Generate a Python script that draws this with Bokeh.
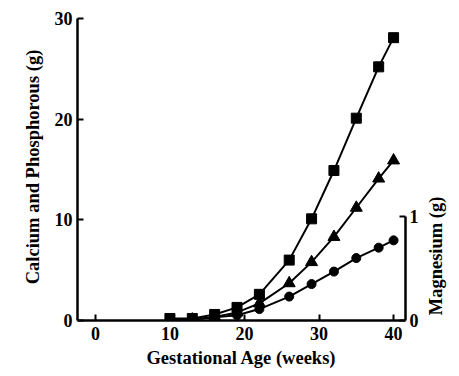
from bokeh.plotting import figure
from bokeh.models import Range1d, LinearAxis, FixedTicker
from bokeh.embed import file_html
from bokeh.resources import INLINE
import math

weeks = [10, 13, 16, 19, 22, 26, 29, 32, 35, 38, 40]
calcium = [0.2, 0.2, 0.6, 1.3, 2.6, 6.0, 10.1, 14.9, 20.1, 25.2, 28.1]
phosphorus = [0.05, 0.1, 0.35, 0.8, 1.7, 3.7, 5.8, 8.3, 11.2, 14.1, 15.9]
magnesium = [0.005, 0.01, 0.03, 0.05, 0.11, 0.23, 0.35, 0.47, 0.60, 0.70, 0.77]
x_ticks = [0, 10, 20, 30, 40]
left_ticks = [0, 10, 20, 30]
right_ticks = [0, 1]
mg_label = "Magnesium (g)"
mg_label_pos = 0.05

FONT = "Liberation Serif"

p = figure(width=459, height=376, output_backend="svg", toolbar_location=None,
           x_range=Range1d(-2.4, 41.6), y_range=Range1d(0, 30.5),
           min_border_left=77, min_border_right=54, min_border_top=13, min_border_bottom=56)
p.extra_y_ranges = {"mg": Range1d(0, 2.95)}
p.outline_line_color = None
p.xgrid.visible = False
p.ygrid.visible = False
p.background_fill_color = "white"

def style(ax, ticks):
    ax.ticker = FixedTicker(ticks=ticks)
    ax.minor_tick_line_color = None
    ax.major_tick_in = 6
    ax.major_tick_out = 0
    ax.major_tick_line_width = 2
    ax.axis_line_width = 2.5
    ax.axis_line_color = "black"
    ax.major_tick_line_color = "black"
    ax.major_label_text_font = FONT
    ax.major_label_text_font_style = "bold"
    ax.major_label_text_font_size = "18px"
    ax.major_label_text_color = "black"
    ax.axis_label_text_font = FONT
    ax.axis_label_text_font_style = "bold"
    ax.axis_label_text_font_size = "18.5px"
    ax.axis_label_text_color = "black"

style(p.xaxis[0], x_ticks)
p.xaxis[0].axis_label = "Gestational Age (weeks)"
p.xaxis[0].major_label_standoff = 6
p.xaxis[0].axis_label_standoff = 5

style(p.yaxis[0], left_ticks)
p.yaxis[0].bounds = (0, 30)
p.yaxis[0].axis_label = "Calcium and Phosphorous (g)"
p.yaxis[0].major_label_standoff = 5
p.yaxis[0].axis_label_standoff = 9

rax = LinearAxis(y_range_name="mg")
style(rax, right_ticks)
rax.bounds = (0, 1)
rax.major_label_standoff = 4
p.add_layout(rax, "right")

# axis title for magnesium, placed next to its short axis
tax = LinearAxis(y_range_name="mg")
style(tax, [mg_label_pos])
tax.axis_line_color = None
tax.major_tick_line_color = None
tax.major_label_overrides = {mg_label_pos: mg_label}
tax.major_label_orientation = math.pi / 2
tax.major_label_text_font_size = "18.5px"
tax.major_label_standoff = 15
p.add_layout(tax, "right")

p.line(weeks, calcium, line_color="black", line_width=2)
p.scatter(weeks, calcium, marker="square", size=10, color="black")
p.line(weeks, phosphorus, line_color="black", line_width=2)
p.scatter(weeks, phosphorus, marker="triangle", size=12, color="black")
p.line(weeks, magnesium, line_color="black", line_width=2, y_range_name="mg")
p.scatter(weeks, magnesium, marker="circle", size=9, color="black", y_range_name="mg")

open("out.html", "w").write(file_html(p, INLINE))
